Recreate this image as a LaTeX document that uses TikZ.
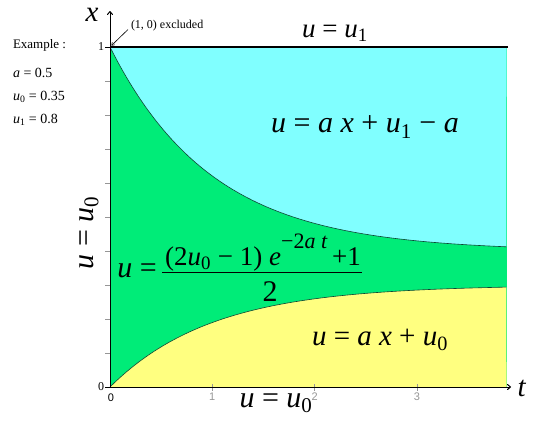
\documentclass[tikz,border=0pt]{standalone}
\usepackage{fontspec}
\setmainfont{Liberation Serif}
\newfontfamily\sansf{Liberation Sans}
\usetikzlibrary{arrows.meta}
\definecolor{cyanfill}{RGB}{128,255,255}
\definecolor{greenfill}{RGB}{0,236,120}
\definecolor{yellowfill}{RGB}{255,255,128}
\definecolor{curvecol}{RGB}{10,70,50}
\definecolor{tickgray}{RGB}{150,150,150}
\newcommand\iu{\textit{u}}
\newcommand\fs[1]{\fontsize{#1}{#1}\selectfont}
\tikzset{
  lbl/.style={inner sep=0pt, outer sep=0pt},
  axisline/.style={line width=1pt, -{To[length=4pt,width=6pt]}},
  ytick/.style={tickgray, line width=0.8pt},
}
\begin{document}
\begin{tikzpicture}[x=1pt,y=-1pt]
\useasboundingbox (0,0) rectangle (540,424);
% regions
\fill[greenfill] (110,47) rectangle (506.5,387);
\fill[cyanfill] (110,47) -- plot[domain=0:3.876,samples=80,smooth] ({110+102.3*\x},{387-340*(0.4+0.6*exp(-\x))}) -- (506.5,47) -- cycle;
\fill[yellowfill] (110,387) -- plot[domain=0:3.876,samples=80,smooth] ({110+102.3*\x},{387-340*0.3*(1-exp(-\x))}) -- (506.5,387) -- cycle;
\draw[curvecol, line width=0.6pt] plot[domain=0:3.876,samples=80,smooth] ({110+102.3*\x},{387-340*(0.4+0.6*exp(-\x))});
\draw[curvecol, line width=0.6pt] plot[domain=0:3.876,samples=80,smooth] ({110+102.3*\x},{387-340*0.3*(1-exp(-\x))});
% top boundary
\coordinate (topL) at (110,47);
\coordinate (topR) at (508,47);
\draw[line width=1.2pt] (topL) -- (topR);
% ticks
\foreach \k in {1,...,9} \draw[ytick] (105,{387-34*\k}) -- (110,{387-34*\k});
\draw[line width=0.8pt] (105,387) -- (110,387);
\draw[line width=0.8pt] (105,47) -- (110,47);
\foreach \k in {1,2,3} \draw[ytick] ({110+102.3*\k},384) -- ({110+102.3*\k},391);
% axes
\coordinate (O) at (110,387);
\coordinate (yend) at (110,11);
\coordinate (xend) at (511,387);
\draw[axisline] (O) -- (yend);
\draw[axisline] (O) -- (xend);
% axis labels
\node[lbl] (xl) at (92,15) {\fs{29}\textit{x}};
\node[lbl] (tl) at (522,388) {\fs{29}\textit{t}};
\node[lbl, anchor=east] (y1) at (104,47) {\fs{12}1};
\node[lbl, anchor=east] (y0) at (104,387) {\fs{12}0};
\node[lbl] (t0) at (111,398) {\sansf\fs{11}0};
\node[lbl, text=tickgray] (t1) at (212.3,397) {\sansf\fs{11}1};
\node[lbl, text=tickgray] (t2) at (314.6,397) {\sansf\fs{11}2};
\node[lbl, text=tickgray] (t3) at (416.9,397) {\sansf\fs{11}3};
% annotation
\node[lbl, anchor=west] (excl) at (131,26) {\fs{12}(1, 0) excluded};
\coordinate (corner) at (111.5,45.5);
\coordinate (exclstart) at (128,29.5);
\draw[line width=0.6pt, -{To[length=3pt,width=4pt]}] (exclstart) -- (corner);
% example
\node[lbl, anchor=west] (ex) at (13,45) {\fs{13}Example :};
\node[lbl, anchor=west] (ea) at (13,73) {\fs{14}\textit{a} = 0.5};
\node[lbl, anchor=west] (eu0) at (13,97) {\fs{14}\iu\textsubscript{0} = 0.35};
\node[lbl, anchor=west] (eu1) at (13,120) {\fs{14}\iu\textsubscript{1} = 0.8};
% formulas
\node[lbl] (top) at (335,33) {\fs{27}\iu{} = \iu\textsubscript{1}};
\node[lbl] (cy) at (365,127) {\fs{30}\iu{} = \textit{a x} + \iu\textsubscript{1} − \textit{a}};
\node[lbl] (ye) at (380,340) {\fs{29}\iu{} = \textit{a x} + \iu\textsubscript{0}};
\node[lbl, rotate=90] (left) at (89,233) {\fs{30}\iu{} = \iu\textsubscript{0}};
\node[lbl] (bot) at (276,403) {\fs{30}\iu{} = \iu\textsubscript{0}};
\node[lbl] (mu) at (137,271) {\fs{30}\iu{} =};
\node[lbl, anchor=base] (num) at (263,265) {\fs{27}(2\iu\textsubscript{0} − 1) \textit{e}\raisebox{0.6em}{\fs{22}−2\textit{a t}}\,+1};
\node[lbl, anchor=base] (den) at (270,301) {\fs{30}2};
\coordinate (barL) at (162,272.5);
\coordinate (barR) at (362,272.5);
\draw[line width=1pt] (barL) -- (barR);
\end{tikzpicture}
\end{document}
